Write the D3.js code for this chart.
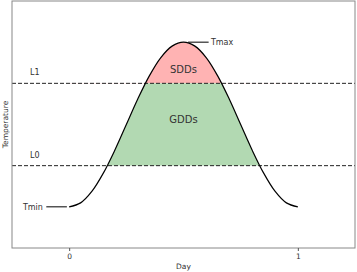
<!DOCTYPE html>
<html><head><meta charset="utf-8">
<script src="https://cdn.jsdelivr.net/npm/d3@7"></script>
<style>body{margin:0;background:#fff}svg{display:block}text{font-family:"DejaVu Sans",sans-serif;fill:#333}</style>
</head><body><svg id="c" width="357" height="272"></svg>
<script>
const days = [0,0.05,0.1,0.15,0.2,0.25,0.3,0.35,0.4,0.45,0.5,0.55,0.6,0.65,0.7,0.75,0.8,0.85,0.9,0.95,1];
const temps = [0,0.024,0.095,0.206,0.345,0.5,0.655,0.794,0.905,0.976,1,0.976,0.905,0.794,0.655,0.5,0.345,0.206,0.095,0.024,0];
const thresholds = [{name:"L0", value:0.25},{name:"L1", value:0.75}];
const xTicks = [0,1];
const areaLabels = [{name:"SDDs", day:0.5, temp:0.83},{name:"GDDs", day:0.5, temp:0.53}];

const svg = d3.select("#c");
const x = d3.scaleLinear().domain([-0.25,1.25]).range([12,355]);
const y = d3.scaleLinear().domain([-0.25,1.25]).range([248,1]);
const pts = days.map((d,i)=>({d, t:temps[i]}));
const L0 = thresholds[0].value, L1 = thresholds[1].value;

const defs = svg.append("defs");
defs.append("clipPath").attr("id","cg").append("rect")
  .attr("x",x.range()[0]).attr("width",x.range()[1]-x.range()[0])
  .attr("y",y(L1)).attr("height",y(L0)-y(L1));
defs.append("clipPath").attr("id","cp").append("rect")
  .attr("x",x.range()[0]).attr("width",x.range()[1]-x.range()[0])
  .attr("y",0).attr("height",y(L1));

const curve = d3.curveCatmullRom;
svg.append("path").datum(pts).attr("clip-path","url(#cg)")
  .attr("fill","rgb(178,217,178)")
  .attr("d", d3.area().curve(curve).x(p=>x(p.d)).y0(y(L0)).y1(p=>y(p.t)));
svg.append("path").datum(pts).attr("clip-path","url(#cp)")
  .attr("fill","rgb(255,179,179)")
  .attr("d", d3.area().curve(curve).x(p=>x(p.d)).y0(y(L1)).y1(p=>y(p.t)));

thresholds.forEach(th=>{
  svg.append("line").attr("x1",x.range()[0]).attr("x2",x.range()[1])
    .attr("y1",y(th.value)).attr("y2",y(th.value))
    .attr("stroke","#222").attr("stroke-width",1).attr("stroke-dasharray","4,2");
  svg.append("text").attr("x",x(-0.15)).attr("y",y(th.value)-8)
    .attr("text-anchor","middle").attr("font-size",8).text(th.name);
});

svg.append("path").datum(pts).attr("fill","none").attr("stroke","#000").attr("stroke-width",1.2)
  .attr("d", d3.line().curve(curve).x(p=>x(p.d)).y(p=>y(p.t)));

svg.append("line").attr("x1",x(-0.1)).attr("x2",x(-0.01)).attr("y1",y(temps[0])).attr("y2",y(temps[0])).attr("stroke","#000").attr("stroke-width",1);
svg.append("text").attr("x",x(-0.115)).attr("y",y(temps[0])+3).attr("text-anchor","end").attr("font-size",8).text("Tmin");
svg.append("line").attr("x1",x(0.52)).attr("x2",x(0.61)).attr("y1",y(1)).attr("y2",y(1)).attr("stroke","#000").attr("stroke-width",1);
svg.append("text").attr("x",x(0.62)).attr("y",y(1)+3).attr("font-size",8).text("Tmax");

areaLabels.forEach(a=>{
  svg.append("text").attr("x",x(a.day)).attr("y",y(a.temp)).attr("text-anchor","middle")
    .attr("font-size",10).attr("dominant-baseline","middle").text(a.name);
});

svg.append("rect").attr("x",x.range()[0]).attr("y",y.range()[1])
  .attr("width",x.range()[1]-x.range()[0]).attr("height",y.range()[0]-y.range()[1])
  .attr("fill","none").attr("stroke","#888").attr("stroke-width",1);

const ax = svg.append("g").attr("transform",`translate(0,${y.range()[0]})`)
  .call(d3.axisBottom(x).tickValues(xTicks).tickFormat(d3.format("d")).tickSize(3).tickPadding(3));
ax.select(".domain").remove();
ax.selectAll("line").attr("stroke","#555");
ax.selectAll("text").attr("font-size",7.5).attr("font-family","DejaVu Sans").attr("fill","#333");

svg.append("text").attr("x",x(0.5)).attr("y",269).attr("text-anchor","middle").attr("font-size",7.5).text("Day");
svg.append("text").attr("transform",`translate(8,${y(0.5)}) rotate(-90)`).attr("text-anchor","middle").attr("font-size",7.5).text("Temperature");
</script></body></html>
